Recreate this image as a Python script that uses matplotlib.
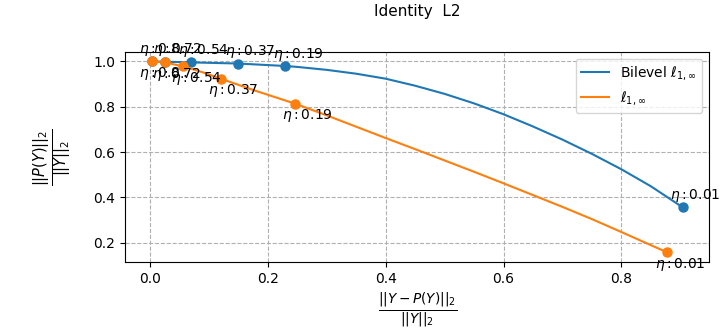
import matplotlib
matplotlib.use("Agg")
import matplotlib.pyplot as plt

# eta values shown as markers
etas = [0.8, 0.72, 0.54, 0.37, 0.19, 0.01]

# Bilevel l1,inf : markers and full curve
bilevel_mx = [0.003, 0.026, 0.069, 0.149, 0.23, 0.904]
bilevel_my = [1.0, 0.999, 0.996, 0.991, 0.980, 0.356]
bilevel_x = [0.003, 0.026, 0.069, 0.149, 0.23, 0.25, 0.3, 0.35, 0.4, 0.45, 0.5,
             0.55, 0.6, 0.65, 0.7, 0.75, 0.8, 0.85, 0.904]
bilevel_y = [1.0, 0.999, 0.996, 0.991, 0.980, 0.976, 0.963, 0.946, 0.924, 0.893, 0.857,
             0.815, 0.767, 0.713, 0.655, 0.592, 0.524, 0.449, 0.356]

# l1,inf : markers and full curve
l1_mx = [0.003, 0.025, 0.057, 0.12, 0.246, 0.878]
l1_my = [1.0, 0.996, 0.978, 0.924, 0.814, 0.157]
l1_x = [0.003, 0.025, 0.057, 0.09, 0.12, 0.18, 0.246, 0.3, 0.35, 0.4, 0.45, 0.5,
        0.55, 0.6, 0.65, 0.7, 0.75, 0.8, 0.85, 0.878]
l1_y = [1.0, 0.996, 0.978, 0.952, 0.924, 0.870, 0.814, 0.762, 0.712, 0.662, 0.613, 0.563,
        0.513, 0.462, 0.410, 0.358, 0.304, 0.247, 0.189, 0.157]

fig = plt.figure(figsize=(7.23, 3.35), dpi=100)
ax = fig.add_axes([0.173, 0.218, 0.808, 0.627])

ax.plot(bilevel_x, bilevel_y, color="C0", label=r"Bilevel $\ell_{1,\infty}$")
ax.plot(bilevel_mx, bilevel_my, "o", color="C0", ms=6.5)
ax.plot(l1_x, l1_y, color="C1", label=r"$\ell_{1,\infty}$")
ax.plot(l1_mx, l1_my, "o", color="C1", ms=6.5)

# Label each marker with its eta
for x, y, e in zip(bilevel_mx, bilevel_my, etas):
    ax.annotate(r"$\eta: %s$" % e, (x, y), xytext=(-9, 6),
                textcoords="offset points", fontsize=10, annotation_clip=False)
for x, y, e in zip(l1_mx, l1_my, etas):
    ax.annotate(r"$\eta: %s$" % e, (x, y), xytext=(-9, -11),
                textcoords="offset points", fontsize=10, annotation_clip=False)

ax.grid(linestyle="--")
ax.set_title("Identity  L2", pad=26, fontsize=11)
ax.set_xlabel(r"$\frac{||Y-P(Y)||_2}{||Y||_2}$", fontsize=14)
ax.set_ylabel(r"$\frac{||P(Y)||_2}{||Y||_2}$", fontsize=15, labelpad=14)
ax.legend(loc="upper right")

fig.savefig("out.png", dpi=100)
